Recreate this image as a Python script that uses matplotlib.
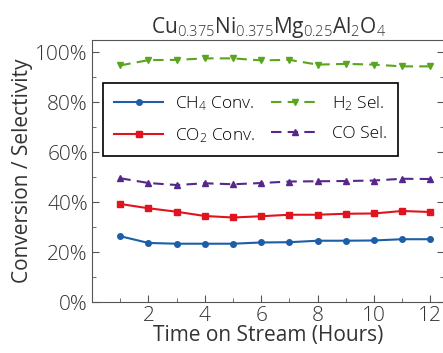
import matplotlib.pyplot as plt
from matplotlib.ticker import FixedLocator, MultipleLocator, FuncFormatter

plt.rcParams['font.family'] = ['Open Sans', 'DejaVu Sans']
plt.rcParams['font.weight'] = 'light'
plt.rcParams['mathtext.fontset'] = 'custom'
plt.rcParams['mathtext.rm'] = 'Open Sans:light'
plt.rcParams['mathtext.it'] = 'Open Sans:light'
plt.rcParams['mathtext.default'] = 'rm'

hours = [1, 2, 3, 4, 5, 6, 7, 8, 9, 10, 11, 12]
ch4_conv = [26.4, 23.7, 23.4, 23.4, 23.4, 23.9, 24.0, 24.6, 24.6, 24.7, 25.2, 25.2]
co2_conv = [39.3, 37.6, 36.2, 34.5, 33.9, 34.4, 35.0, 35.0, 35.4, 35.5, 36.5, 36.1]
h2_sel = [94.8, 96.9, 97.0, 97.6, 97.6, 96.8, 97.0, 95.1, 95.4, 95.1, 94.4, 94.4]
co_sel = [49.6, 47.7, 46.9, 47.6, 47.2, 47.7, 48.3, 48.4, 48.5, 48.7, 49.4, 49.3]
x_ticks = [2, 4, 6, 8, 10, 12]

fig = plt.figure(figsize=(4.43, 3.53), dpi=100)
ax = fig.add_axes([0.208, 0.144, 0.795, 0.743])

ax.plot(hours, ch4_conv, '-o', color='#1c5ea8', lw=1.5, ms=4, label='CH$_4$ Conv.')
ax.plot(hours, co2_conv, '-s', color='#e0141e', lw=1.5, ms=4, label='CO$_2$ Conv.')
ax.plot(hours, h2_sel, '--v', color='#5aa51e', lw=1.5, ms=5, dashes=(5, 3), label='H$_2$ Sel.')
ax.plot(hours, co_sel, '--^', color='#55288a', lw=1.5, ms=5, dashes=(5, 3), label='CO Sel.')

ax.set_xlim(0, 12.5)
ax.set_ylim(0, 105)
ax.xaxis.set_major_locator(FixedLocator(x_ticks))
ax.xaxis.set_minor_locator(MultipleLocator(1))
ax.yaxis.set_major_locator(MultipleLocator(20))
ax.yaxis.set_minor_locator(MultipleLocator(10))
ax.yaxis.set_major_formatter(FuncFormatter(lambda v, p: f'{v:.0f}%'))
ax.tick_params(which='both', direction='in', right=True, labelsize=15, color='#555555',
               labelcolor='#333333')
ax.tick_params(which='major', length=5, pad=3)
ax.tick_params(which='minor', length=3)
for s in ax.spines.values():
    s.set_color('#555555')

ax.set_title('Cu$_{0.375}$Ni$_{0.375}$Mg$_{0.25}$Al$_2$O$_4$', fontsize=15, pad=3, color='#333333')
ax.set_xlabel('Time on Stream (Hours)', fontsize=15, labelpad=-1, color='#333333')
ax.set_ylabel('Conversion / Selectivity', fontsize=15, labelpad=2, color='#333333')

leg = ax.legend(ncol=2, loc='upper left', bbox_to_anchor=(0.031, 0.836), borderaxespad=0,
                fontsize=12.5, fancybox=False, edgecolor='black', framealpha=1,
                handlelength=2.8, handletextpad=0.7, columnspacing=0.9,
                borderpad=0.65, labelspacing=0.75)
leg.get_frame().set_linewidth(1.2)

fig.savefig('out.png', dpi=100)
